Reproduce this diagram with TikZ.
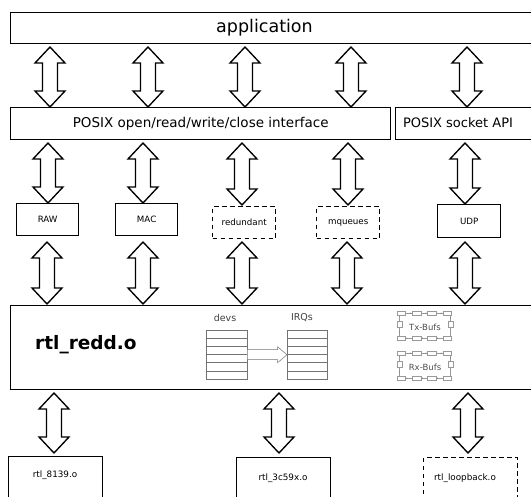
\documentclass[tikz,border=0pt]{standalone}
\usepackage{fontspec}
\setmainfont{DejaVu Sans}
\usetikzlibrary{calc}
\tikzset{
  box/.style={draw, line width=1.35pt, inner sep=0pt, anchor=north west},
  dbox/.style={box, dash pattern=on 4.5pt off 3.5pt},
  lbl/.style={inner sep=0pt},
  blockarrow/.style={draw, line width=1.35pt, fill=white, line join=miter,
    to path={-- ++(15,16) -- ++(-7.5,0) -- ($(\tikztotarget)+(7.5,-16)$) -- ++(7.5,0)
      -- (\tikztotarget) -- ++(-15,-16) -- ++(7.5,0) -- ($(\tikztostart)+(-7.5,16)$)
      -- ++(-7.5,0) -- cycle}},
  thin/.style={draw=black!55, line width=0.5pt},
  bufbox/.style={draw=black!40, line width=0.4pt},
}
\newcommand{\fs}[1]{\fontsize{#1}{#1}\selectfont}
\begin{document}
\begin{tikzpicture}[x=1pt, y=-1pt]
\useasboundingbox (0,0) rectangle (531,497);

% layer boxes
\node[box, minimum width=530pt, minimum height=31pt] (app) at (10,12) {};
\node[lbl, font=\fs{17.5}] (appt) at (264.5,28) {application};
\node[box, minimum width=380pt, minimum height=32pt, font=\fs{13.5}] (posix) at (10,107) {POSIX open/read/write/close interface};
\node[box, minimum width=150pt, minimum height=32pt] (sock) at (395,107) {};
\node[lbl, font=\fs{13}] (sockt) at (458,123) {POSIX socket API};

\node[box, minimum width=62pt, minimum height=32pt, font=\fs{8.7}] (raw) at (16,203) {RAW};
\node[box, minimum width=62pt, minimum height=32pt, font=\fs{8.7}] (mac) at (115,203) {MAC};
\node[dbox, minimum width=63pt, minimum height=32pt, font=\fs{8.7}] (red) at (212,206) {redundant};
\node[dbox, minimum width=63pt, minimum height=32pt, font=\fs{8.7}] (mq) at (316,206) {mqueues};
\node[box, minimum width=63pt, minimum height=33pt, font=\fs{8.7}] (udp) at (437,204) {UDP};

\node[box, minimum width=530pt, minimum height=84pt] (redd) at (10,305) {};
\node[lbl, anchor=west, font=\bfseries\fs{18.5}] (reddt) at (35,345) {rtl\_redd.o};

\node[box, minimum width=94pt, minimum height=60pt] (b1) at (8,456) {};
\node[lbl, font=\fs{8.8}] (b1t) at (55,475) {rtl\_8139.o};
\node[box, minimum width=94pt, minimum height=60pt] (b2) at (236,457) {};
\node[lbl, font=\fs{8.8}] (b2t) at (283,478) {rtl\_3c59x.o};
\node[dbox, minimum width=94pt, minimum height=60pt] (b3) at (423,457) {};
\node[lbl, font=\fs{8.8}] (b3t) at (465,478) {rtl\_loopback.o};

% block arrows: application <-> POSIX
\foreach \i/\x in {1/50, 2/148, 3/245, 4/351, 5/467} {
  \coordinate (r1t\i) at (\x,47);
  \coordinate (r1b\i) at (\x,107);
  \draw[blockarrow] (r1t\i) to (r1b\i);
}
% POSIX <-> protocol boxes
\foreach \i/\x/\b in {1/48/203, 2/143/203, 3/242/205, 4/348/205, 5/465/204} {
  \coordinate (r2t\i) at (\x,143);
  \coordinate (r2b\i) at (\x,\b);
  \draw[blockarrow] (r2t\i) to (r2b\i);
}
% protocol boxes <-> rtl_redd
\foreach \i/\x in {1/47, 2/143, 3/242, 4/347, 5/465} {
  \coordinate (r3t\i) at (\x,242);
  \coordinate (r3b\i) at (\x,304);
  \draw[blockarrow] (r3t\i) to (r3b\i);
}
% rtl_redd <-> drivers
\foreach \i/\x in {1/54, 2/279, 3/468} {
  \coordinate (r4t\i) at (\x,393);
  \coordinate (r4b\i) at (\x,453);
  \draw[blockarrow] (r4t\i) to (r4b\i);
}

% devs / IRQs tables
\node[lbl, font=\fs{9.5}, text=black!75] (devsl) at (225,318) {devs};
\node[lbl, font=\fs{9.5}, text=black!75] (irql) at (302,318) {IRQs};
\node[thin, anchor=north west, inner sep=0pt, minimum width=41pt, minimum height=49pt] (devt) at (206,330) {};
\node[thin, anchor=north west, inner sep=0pt, minimum width=40pt, minimum height=49pt] (irqt) at (287,330) {};
\foreach \k in {1,...,5} {
  \draw[thin] ($(devt.north west)+(0,\k*8.17)$) -- ($(devt.north east)+(0,\k*8.17)$);
  \draw[thin] ($(irqt.north west)+(0,\k*8.17)$) -- ($(irqt.north east)+(0,\k*8.17)$);
}
\draw[thin, fill=white] ($(devt.east)+(0,-5)$) -- ($(devt.east)+(30,-5)$) -- ($(devt.east)+(30,-8)$)
  -- ($(irqt.west)+(0,0)$) -- ($(devt.east)+(30,8)$) -- ($(devt.east)+(30,5)$) -- ($(devt.east)+(0,5)$);

% Tx / Rx buffer rings
\foreach \yy/\lab in {311/Tx-Bufs, 351/Rx-Bufs} {
  \foreach \k in {0,1,2,3} {
    \draw[bufbox] (397+\k*15.3,\yy) rectangle ++(8.5,4.5);
    \draw[bufbox] (397+\k*15.3,\yy+25) rectangle ++(8.5,4.5);
  }
  \foreach \k in {0,1,2} {
    \draw[bufbox] (405.5+\k*15.3,\yy+2.25) -- ++(6.8,0);
    \fill[black!50] (410.5+\k*15.3,\yy+2.25) circle (0.7);
    \draw[bufbox] (405.5+\k*15.3,\yy+27.25) -- ++(6.8,0);
    \fill[black!50] (407+\k*15.3,\yy+27.25) circle (0.7);
  }
  \draw[bufbox] (397,\yy+10) rectangle ++(5,6);
  \draw[bufbox] (448,\yy+10) rectangle ++(5,6);
  \draw[bufbox] (399.5,\yy+4.5) -- ++(0,5.5);
  \draw[bufbox] (399.5,\yy+16) -- ++(0,9);
  \draw[bufbox] (450.5,\yy+4.5) -- ++(0,5.5);
  \draw[bufbox] (450.5,\yy+16) -- ++(0,9);
  \fill[black!50] (399.5,\yy+21) circle (0.7);
  \fill[black!50] (450.5,\yy+7) circle (0.7);
  \node[lbl, font=\fs{8.5}, text=black!70] at (425,\yy+16) {\lab};
}
\end{tikzpicture}
\end{document}
